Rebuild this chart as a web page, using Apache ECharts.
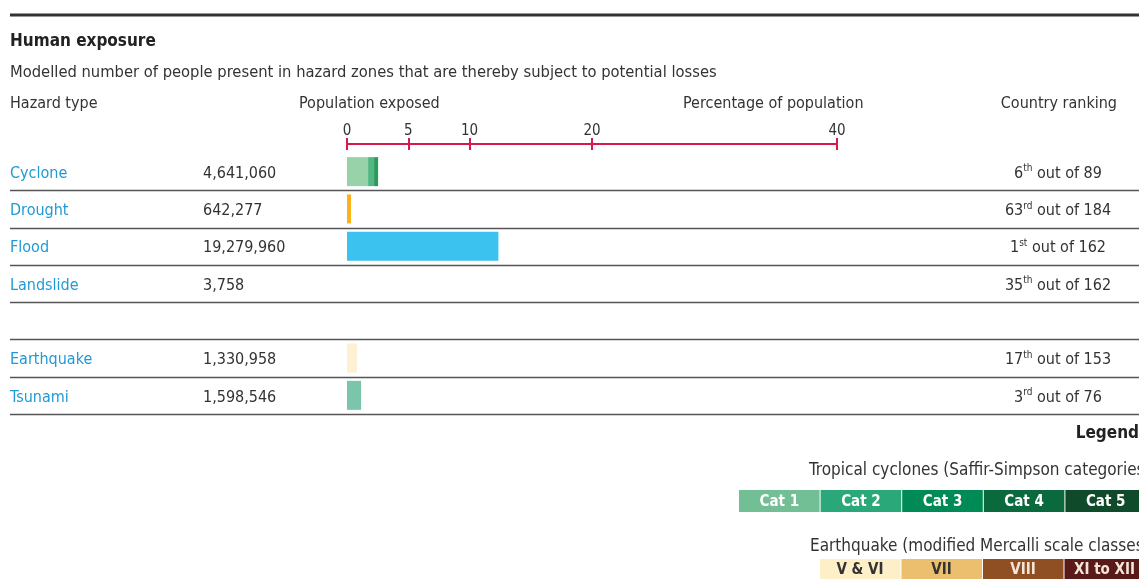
<!DOCTYPE html>
<html>
<head>
<meta charset="utf-8">
<script src="https://cdn.jsdelivr.net/npm/echarts@6/dist/echarts.min.js"></script>
<style>
html,body{margin:0;padding:0;background:#fff;}
#c{width:1139px;height:579px;}
</style>
</head>
<body>
<div id="c"></div>
<script>
// ---- data ----
const categories = ['Cyclone', 'Drought', 'Flood', 'Landslide', '', 'Earthquake', 'Tsunami'];
const exposedPeople = ['4,641,060', '642,277', '19,279,960', '3,758', '', '1,330,958', '1,598,546'];
const rankNumber = ['6', '63', '1', '35', '', '17', '3'];
const rankSuffix = ['th', 'rd', 'st', 'th', '', 'th', 'rd'];
const rankOutOf = ['89', '184', '162', '162', '', '153', '76'];
// percentage of population
const cycloneCat1Pct = [1.72, null, null, null, null, null, null];
const cycloneCat2Pct = [0.49, null, null, null, null, null, null];
const cycloneCat3Pct = [0.33, null, null, null, null, null, null];
const hazardPct = [null, 0.33, 12.36, 0, null, 0.82, 1.15];
const axisTicks = [0, 5, 10, 20, 40];
const cycloneLegend = ['Cat 1', 'Cat 2', 'Cat 3', 'Cat 4', 'Cat 5'];
const quakeLegend = ['V & VI', 'VII', 'VIII', 'XI to XII'];

// ---- styles ----
const FONT = '"Liberation Sans Narrow", "DejaVu Sans Condensed", "Roboto Condensed", "Arial Narrow", sans-serif';
const hazardColors = [null, '#fbb31a', '#3bc2ef', '#3bc2ef', null, '#fef0d2', '#7bc6ab'];
const cycloneColors = ['#73bf95', '#2ba879', '#008a55', '#0a6a3e', '#0f4a2a'];
const quakeColors = ['#fdefc8', '#ecbf6e', '#8f4f22', '#5b1a1a'];
const quakeTextColors = ['#333', '#333', '#f3e6d8', '#f3e6d8'];
const RED = '#d7194b';
const TXT = '#333';
const FS = 16;

const chart = echarts.init(document.getElementById('c'), null, {renderer: 'canvas'});

const xAxisBase = {
  type: 'value', min: 0, max: 40, position: 'top', offset: 9,
  axisLine: {show: true, lineStyle: {color: RED, width: 2}},
  splitLine: {show: false}
};

const option = {
  animation: false,
  backgroundColor: '#fff',
  textStyle: {fontFamily: FONT},
  grid: {left: 347, right: 302, top: 153, height: 261},
  xAxis: [
    Object.assign({}, xAxisBase, {
      axisTick: {show: true, customValues: axisTicks, length: 6, lineStyle: {color: RED, width: 2}},
      axisLabel: {show: true, customValues: axisTicks, margin: 5, color: TXT, fontSize: 15, fontFamily: FONT}
    }),
    Object.assign({}, xAxisBase, {
      axisTick: {show: true, inside: true, customValues: axisTicks, length: 6, lineStyle: {color: RED, width: 2}},
      axisLabel: {show: false}
    })
  ],
  yAxis: [
    {
      type: 'category', inverse: true, data: categories, position: 'left',
      axisLine: {show: false}, axisTick: {show: false}, splitLine: {show: false},
      axisLabel: {
        margin: 337, align: 'left', fontFamily: FONT, padding: [4, 0, 0, 0],
        formatter: function (v, i) {
          if (!v) return '';
          return '{n|' + v + '}{v|' + exposedPeople[i] + '}';
        },
        rich: {
          n: {color: '#1e9ad6', fontSize: FS, width: 193, lineHeight: 20, fontFamily: FONT},
          v: {color: TXT, fontSize: FS, lineHeight: 20, fontFamily: FONT}
        }
      }
    },
    {
      type: 'category', inverse: true, data: categories, position: 'right',
      axisLine: {show: false}, axisTick: {show: false}, splitLine: {show: false},
      axisLabel: {
        margin: 221, align: 'center', fontFamily: FONT, padding: [4, 0, 0, 0],
        formatter: function (v, i) {
          if (!v) return '';
          return '{n|' + rankNumber[i] + '}{s|' + rankSuffix[i] + '}{t| out of ' + rankOutOf[i] + '}';
        },
        rich: {
          n: {color: TXT, fontSize: FS, lineHeight: 20, fontFamily: FONT},
          s: {color: TXT, fontSize: 10, lineHeight: 20, verticalAlign: 'top', fontFamily: FONT},
          t: {color: TXT, fontSize: FS, lineHeight: 20, fontFamily: FONT}
        }
      }
    }
  ],
  series: [
    {type: 'bar', name: 'Cat 1', stack: 'p', barWidth: 29, data: cycloneCat1Pct, itemStyle: {color: '#98d2a9'}},
    {type: 'bar', name: 'Cat 2', stack: 'p', barWidth: 29, data: cycloneCat2Pct, itemStyle: {color: '#52b882'}},
    {type: 'bar', name: 'Cat 3', stack: 'p', barWidth: 29, data: cycloneCat3Pct, itemStyle: {color: '#2d9a5d'}},
    {type: 'bar', name: 'Hazard', stack: 'p', barWidth: 29,
      data: hazardPct.map(function (v, i) { return v == null ? null : {value: v, itemStyle: {color: hazardColors[i]}}; })}
  ]
};
chart.setOption(option);

// ---- decorations: rules, headers, legend ----
const g = [];
g.push({type: 'line', shape: {x1: 10, y1: 15, x2: 1139, y2: 15}, style: {stroke: '#333', lineWidth: 3}});
function txt(x, y, s, opts) {
  g.push({type: 'text', x: x, y: y, style: Object.assign({text: s, fill: TXT, font: FS + 'px ' + FONT, textAlign: 'left', textVerticalAlign: 'middle'}, opts || {})});
}
txt(10, 42, 'Human exposure', {font: 'bold 17px ' + FONT, fill: '#222'});
txt(10, 73, 'Modelled number of people present in hazard zones that are thereby subject to potential losses', {font: '16.4px ' + FONT});
txt(10, 104, 'Hazard type');
txt(299, 104, 'Population exposed');
txt(683, 104, 'Percentage of population');
txt(1117, 104, 'Country ranking', {textAlign: 'right'});

// row separators from category band positions
const centers = categories.map(function (c, i) { return chart.convertToPixel({yAxisIndex: 0}, i); });
const band = centers[1] - centers[0];
for (let i = 0; i < categories.length; i++) {
  const y = Math.round(centers[i] + band / 2) + 0.5;
  g.push({type: 'line', shape: {x1: 10, y1: y, x2: 1139, y2: y}, style: {stroke: '#555', lineWidth: 1.5}});
}

// legend
txt(1139, 434, 'Legend', {textAlign: 'right', font: 'bold 17px ' + FONT, fill: '#222'});
txt(809, 471, 'Tropical cyclones (Saffir-Simpson categories)', {font: '17px ' + FONT});
cycloneLegend.forEach(function (lab, i) {
  const x = 739 + i * 81.6;
  g.push({type: 'rect', shape: {x: x, y: 490, width: 80.6, height: 22}, style: {fill: cycloneColors[i]}});
  g.push({type: 'text', x: x + 40.3, y: 502, style: {text: lab, fill: '#fff', font: 'bold 15px ' + FONT, textAlign: 'center', textVerticalAlign: 'middle'}});
});
txt(810, 547, 'Earthquake (modified Mercalli scale classes)', {font: '17px ' + FONT});
quakeLegend.forEach(function (lab, i) {
  const x = 820 + i * 81.5;
  g.push({type: 'rect', shape: {x: x, y: 559, width: 80.5, height: 20}, style: {fill: quakeColors[i]}});
  g.push({type: 'text', x: x + 40, y: 570, style: {text: lab, fill: quakeTextColors[i], font: 'bold 15px ' + FONT, textAlign: 'center', textVerticalAlign: 'middle'}});
});
chart.setOption({graphic: g});
</script>
</body>
</html>
